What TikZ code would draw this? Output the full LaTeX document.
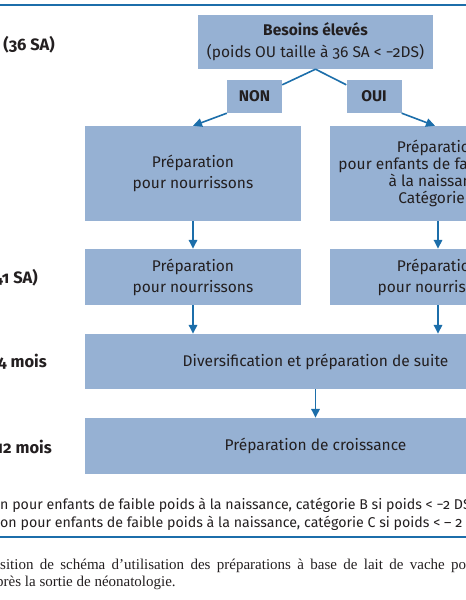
\documentclass[tikz,border=0pt]{standalone}
\usepackage{fontspec}
\setmainfont{Fira Sans}[Numbers=OldStyle]
\newfontfamily\capfont{Liberation Serif}
\usetikzlibrary{arrows.meta}
\definecolor{boxblue}{RGB}{150,177,211}
\definecolor{lineblue}{RGB}{28,110,170}
\definecolor{txt}{RGB}{35,31,32}
\begin{document}
\begin{tikzpicture}[x=1pt,y=-1pt,
  box/.style={fill=boxblue, draw=none, inner sep=0pt, align=center, text=txt, font=\fontsize{15.5}{21}\selectfont},
  conn/.style={draw=lineblue, line width=1.6pt},
  arr/.style={conn, -{Triangle[length=9pt,width=8.5pt]}},
  lab/.style={anchor=east, text=txt, font=\fontsize{16.5}{18}\selectfont\bfseries, inner sep=0pt},
  foot/.style={anchor=west, text=txt, font=\fontsize{14.2}{16}\selectfont, inner sep=0pt},
  captext/.style={anchor=west, text=txt, font=\capfont\fontsize{15}{16}\selectfont, inner sep=0pt}]
\useasboundingbox (0,0) rectangle (466,600);
\draw[lineblue, line width=2pt] (0,5) -- (466,5);

% left labels
\node[lab] (l1) at (55,45) {(36 SA)};
\node[lab] (l2) at (38,278) {(41 SA)};
\node[lab] (l3) at (47,362) {4 mois};
\node[lab] (l4) at (52,447) {12 mois};

% boxes
\node[box, minimum width=235pt, minimum height=54pt, font=\fontsize{15.5}{22}\selectfont] (top) at (315.5,42)
  {\textbf{Besoins élevés}\\(poids OU taille à 36 SA < −2DS)};
\node[box, minimum width=55pt, minimum height=33pt, font=\fontsize{15.5}{16}\selectfont\bfseries] (non) at (254.5,96.5) {NON};
\node[box, minimum width=55pt, minimum height=33pt, font=\fontsize{15.5}{16}\selectfont\bfseries] (oui) at (374,96.5) {OUI};
\node[box, minimum width=216pt, minimum height=95pt] (L1) at (193,173.5) {Préparation\\pour nourrissons};
\node[box, minimum width=216pt, minimum height=95pt, font=\fontsize{15.5}{17}\selectfont] (R1) at (438,173.5)
  {Préparation\\pour enfants de faible poids\\à la naissance\\Catégorie C};
\node[box, minimum width=216pt, minimum height=56pt] (L2) at (193,277) {Préparation\\pour nourrissons};
\node[box, minimum width=216pt, minimum height=56pt] (R2) at (438,277) {Préparation\\pour nourrissons};
\node[box, minimum width=461pt, minimum height=55pt] (D) at (315.5,361.5) {Diversification et préparation de suite};
\node[box, minimum width=461pt, minimum height=56pt] (C) at (315.5,446) {Préparation de croissance};

% connectors
\draw[conn] (top.south) -- ([yshift=-5pt]non.north east);
\draw[conn] (top.south) -- ([yshift=-5pt]oui.north west);
\draw[arr] (non.south west) -- (L1.north);
\draw[arr] (oui.south east) -- ([xshift=-3pt]R1.north);
\draw[arr] (L1.south) -- (L2.north);
\draw[arr] (R1.south) -- (R2.north);
\draw[arr] (L2.south) -- (L2.south |- D.north);
\draw[arr] (R2.south) -- (R2.south |- D.north);
\draw[arr] (D.south) -- (C.north);

% footnotes
\node[foot] (f1) at (0,505) {n pour enfants de faible poids à la naissance, catégorie B si poids < −2 DS};
\node[foot] (f2) at (0,523) {on pour enfants de faible poids à la naissance, catégorie C si poids < – 2 DS};
\draw[lineblue, line width=1.5pt] (0,537) -- (466,537);

% caption
\node[captext] (c1) at (0,566) {\makebox[466pt][s]{sition de schéma d’utilisation des préparations à base de lait de vache po}};
\node[captext] (c2) at (-4,583) {près la sortie de néonatologie.};
\end{tikzpicture}
\end{document}
